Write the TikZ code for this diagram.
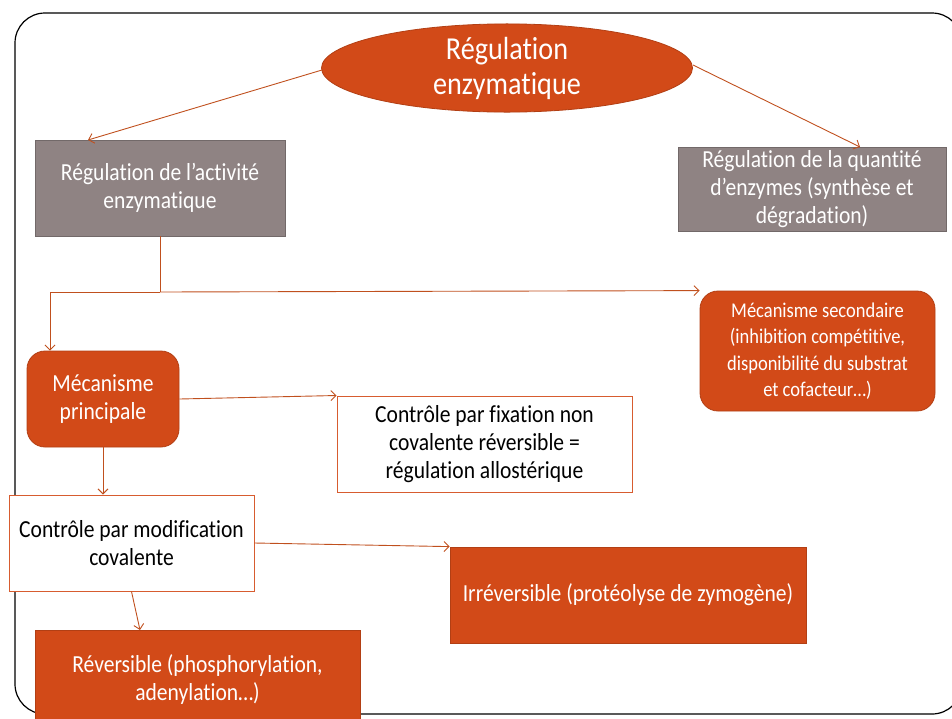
\documentclass[tikz,border=0pt]{standalone}
\usepackage{fontspec}
\setmainfont[FakeStretch=0.88,Ligatures=NoCommon]{Carlito}
\usetikzlibrary{shapes.geometric,arrows.meta}
\definecolor{orng}{HTML}{D24A18}
\definecolor{lnc}{HTML}{C0501E}
\definecolor{gry}{HTML}{8F8383}
\tikzset{
  txt/.style={font=\fontsize{24.5}{28}\selectfont, align=center, inner sep=0pt},
  graybox/.style={txt, fill=gry, draw=gry!80!black, line width=0.8pt, text=white},
  orbox/.style={txt, fill=orng, draw=orng!85!black, line width=0.8pt, text=white},
  wbox/.style={txt, fill=white, draw=orng!90!white, line width=1pt, text=black},
  conn/.style={draw=lnc, line width=0.9pt, -{Straight Barb[length=5pt,width=10pt]}},
  seg/.style={draw=lnc, line width=0.9pt}
}
\begin{document}
\begin{tikzpicture}[x=1pt,y=-1pt]
\useasboundingbox (0,0) rectangle (952,718);
\clip (0,0) rectangle (952,718);
\draw[line width=1.2pt, rounded corners=30pt] (15,13) rectangle (962,714);

\node[ellipse, fill=orng, draw=orng!85!black, line width=0.8pt, minimum width=371pt, minimum height=80pt, text=white, font=\fontsize{32}{35}\selectfont, align=center, inner sep=0pt] (root) at (507,68) {Régulation\\enzymatique};

\node[graybox, minimum width=250pt, minimum height=96pt] (act) at (160,188) {Régulation de l’activité\\enzymatique};
\node[graybox, minimum width=268pt, minimum height=84pt] (qte) at (812,189) {Régulation de la quantité\\d’enzymes (synthèse et\\dégradation)};

\node[orbox, rounded corners=18pt, minimum width=152pt, minimum height=96pt] (princ) at (103,399) {Mécanisme\\principale};
\node[orbox, rounded corners=18pt, minimum width=235pt, minimum height=120pt, font=\fontsize{21}{26.5}\selectfont] (sec) at (817.5,351) {Mécanisme secondaire\\(inhibition compétitive,\\disponibilité du substrat\\et cofacteur…)};

\node[wbox, minimum width=295pt, minimum height=96pt] (allo) at (484.5,444) {Contrôle par fixation non\\covalente réversible =\\régulation allostérique};
\node[wbox, minimum width=245pt, minimum height=96pt] (modif) at (131.5,543) {Contrôle par modification\\covalente};

\node[orbox, minimum width=356pt, minimum height=96pt] (irr) at (628,595) {Irréversible (protéolyse de zymogène)};
\node[orbox, minimum width=325pt, minimum height=100pt] (rev) at (197.5,680) {Réversible (phosphorylation,\\adenylation…)};

\coordinate (c1) at (160,292);
\draw[conn] (322,70) -- (88,140);
\draw[conn] (693,65) -- (860,147);
\draw[seg] (act.south -| c1) -- (c1);
\draw[conn] (c1) -- (50,292) -- (princ.north -| 50,0);
\draw[conn] (c1) -- (sec.north west);
\draw[conn] (princ.east) -- (allo.north west);
\draw[conn] (princ.south) -- (modif.north -| princ.south);
\draw[conn] (modif.east) -- (irr.north west);
\draw[conn] (modif.south) -- (140,630);
\end{tikzpicture}
\end{document}
